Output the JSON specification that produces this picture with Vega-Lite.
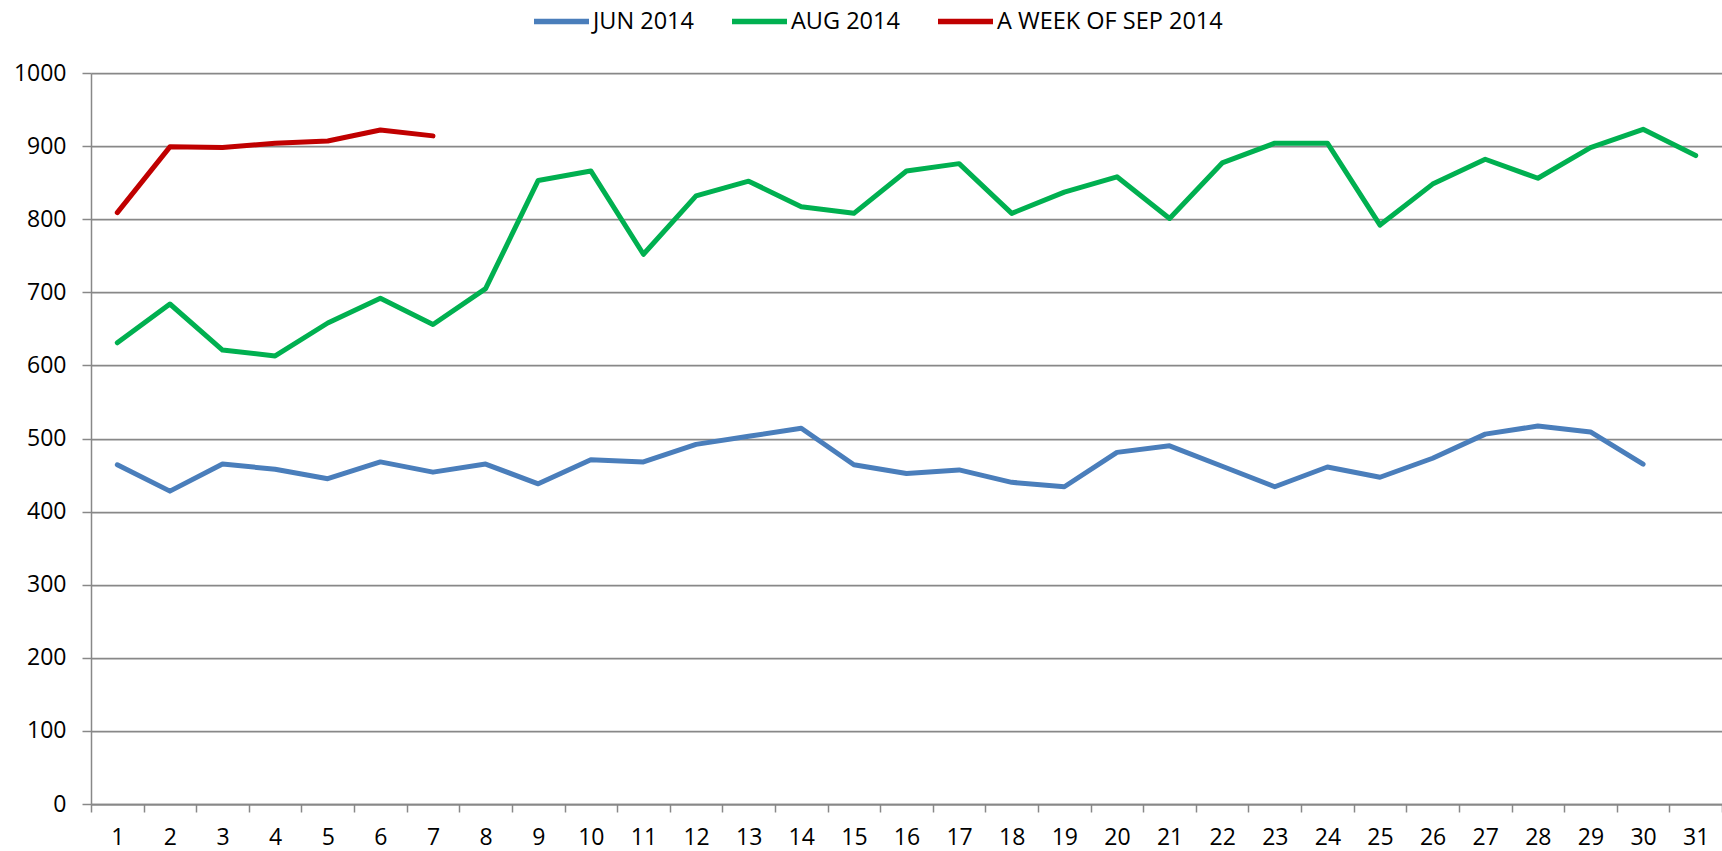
{
  "$schema": "https://vega.github.io/schema/vega-lite/v6.json",
  "width": 1631,
  "height": 731,
  "autosize": {"type": "none"},
  "padding": {"left": 91, "top": 73, "right": 0, "bottom": 47},
  "background": "white",
  "config": {"view": {"stroke": null}, "font": "Open Sans"},
  "data": {"values": [
    {"day": 1, "series": "JUN 2014", "value": 464},
    {"day": 2, "series": "JUN 2014", "value": 428},
    {"day": 3, "series": "JUN 2014", "value": 465},
    {"day": 4, "series": "JUN 2014", "value": 458},
    {"day": 5, "series": "JUN 2014", "value": 445},
    {"day": 6, "series": "JUN 2014", "value": 468},
    {"day": 7, "series": "JUN 2014", "value": 454},
    {"day": 8, "series": "JUN 2014", "value": 465},
    {"day": 9, "series": "JUN 2014", "value": 438},
    {"day": 10, "series": "JUN 2014", "value": 471},
    {"day": 11, "series": "JUN 2014", "value": 468},
    {"day": 12, "series": "JUN 2014", "value": 492},
    {"day": 13, "series": "JUN 2014", "value": 503},
    {"day": 14, "series": "JUN 2014", "value": 514},
    {"day": 15, "series": "JUN 2014", "value": 464},
    {"day": 16, "series": "JUN 2014", "value": 452},
    {"day": 17, "series": "JUN 2014", "value": 457},
    {"day": 18, "series": "JUN 2014", "value": 440},
    {"day": 19, "series": "JUN 2014", "value": 434},
    {"day": 20, "series": "JUN 2014", "value": 481},
    {"day": 21, "series": "JUN 2014", "value": 490},
    {"day": 22, "series": "JUN 2014", "value": 462},
    {"day": 23, "series": "JUN 2014", "value": 434},
    {"day": 24, "series": "JUN 2014", "value": 461},
    {"day": 25, "series": "JUN 2014", "value": 447},
    {"day": 26, "series": "JUN 2014", "value": 473},
    {"day": 27, "series": "JUN 2014", "value": 506},
    {"day": 28, "series": "JUN 2014", "value": 517},
    {"day": 29, "series": "JUN 2014", "value": 509},
    {"day": 30, "series": "JUN 2014", "value": 465},
    {"day": 1, "series": "AUG 2014", "value": 631},
    {"day": 2, "series": "AUG 2014", "value": 684},
    {"day": 3, "series": "AUG 2014", "value": 621},
    {"day": 4, "series": "AUG 2014", "value": 613},
    {"day": 5, "series": "AUG 2014", "value": 658},
    {"day": 6, "series": "AUG 2014", "value": 692},
    {"day": 7, "series": "AUG 2014", "value": 656},
    {"day": 8, "series": "AUG 2014", "value": 705},
    {"day": 9, "series": "AUG 2014", "value": 853},
    {"day": 10, "series": "AUG 2014", "value": 866},
    {"day": 11, "series": "AUG 2014", "value": 752},
    {"day": 12, "series": "AUG 2014", "value": 832},
    {"day": 13, "series": "AUG 2014", "value": 852},
    {"day": 14, "series": "AUG 2014", "value": 817},
    {"day": 15, "series": "AUG 2014", "value": 808},
    {"day": 16, "series": "AUG 2014", "value": 866},
    {"day": 17, "series": "AUG 2014", "value": 876},
    {"day": 18, "series": "AUG 2014", "value": 808},
    {"day": 19, "series": "AUG 2014", "value": 837},
    {"day": 20, "series": "AUG 2014", "value": 858},
    {"day": 21, "series": "AUG 2014", "value": 801},
    {"day": 22, "series": "AUG 2014", "value": 877},
    {"day": 23, "series": "AUG 2014", "value": 904},
    {"day": 24, "series": "AUG 2014", "value": 904},
    {"day": 25, "series": "AUG 2014", "value": 792},
    {"day": 26, "series": "AUG 2014", "value": 848},
    {"day": 27, "series": "AUG 2014", "value": 882},
    {"day": 28, "series": "AUG 2014", "value": 856},
    {"day": 29, "series": "AUG 2014", "value": 898},
    {"day": 30, "series": "AUG 2014", "value": 923},
    {"day": 31, "series": "AUG 2014", "value": 887},
    {"day": 1, "series": "A WEEK OF SEP 2014", "value": 809},
    {"day": 2, "series": "A WEEK OF SEP 2014", "value": 899},
    {"day": 3, "series": "A WEEK OF SEP 2014", "value": 898},
    {"day": 4, "series": "A WEEK OF SEP 2014", "value": 904},
    {"day": 5, "series": "A WEEK OF SEP 2014", "value": 907},
    {"day": 6, "series": "A WEEK OF SEP 2014", "value": 922},
    {"day": 7, "series": "A WEEK OF SEP 2014", "value": 914}
  ]},
  "mark": {"type": "line", "strokeWidth": 5, "strokeCap": "round", "strokeJoin": "round"},
  "encoding": {
    "x": {
      "field": "day",
      "type": "ordinal",
      "bandPosition": 0.5,
      "scale": {"type": "band", "paddingInner": 0, "paddingOuter": 0},
      "axis": {
        "title": null,
        "labelAngle": 0,
        "tickBand": "extent",
        "grid": false,
        "domainColor": "#888888",
        "domainWidth": 1.75,
        "tickColor": "#888888",
        "tickWidth": 1.5,
        "tickSize": 8,
        "labelPadding": 14,
        "labelFontSize": 23,
        "labelFont": "Open Sans",
        "labelColor": "#000000"
      }
    },
    "y": {
      "field": "value",
      "type": "quantitative",
      "scale": {"domain": [0, 1000], "nice": false, "zero": true},
      "axis": {
        "title": null,
        "format": "d",
        "values": [0, 100, 200, 300, 400, 500, 600, 700, 800, 900, 1000],
        "grid": true,
        "gridColor": "#888888",
        "gridWidth": 1.75,
        "domainColor": "#888888",
        "domainWidth": 1.5,
        "tickColor": "#888888",
        "tickWidth": 1.5,
        "tickSize": 9,
        "labelPadding": 16,
        "labelFontSize": 23,
        "labelFont": "Open Sans",
        "labelColor": "#000000"
      }
    },
    "color": {
      "field": "series",
      "type": "nominal",
      "sort": ["JUN 2014", "AUG 2014", "A WEEK OF SEP 2014"],
      "scale": {
        "domain": ["JUN 2014", "AUG 2014", "A WEEK OF SEP 2014"],
        "range": ["#4A7EBB", "#00B050", "#C00000"]
      },
      "legend": {
        "title": null,
        "orient": "none",
        "direction": "horizontal",
        "legendX": 440,
        "legendY": -82,
        "padding": 0,
        "symbolType": "stroke",
        "symbolSize": 3025,
        "symbolStrokeWidth": 5.5,
        "labelFontSize": 23.5,
        "labelFont": "Open Sans",
        "labelColor": "#000000",
        "labelOffset": 1,
        "labelLimit": 400,
        "columnPadding": 27
      }
    }
  }
}
